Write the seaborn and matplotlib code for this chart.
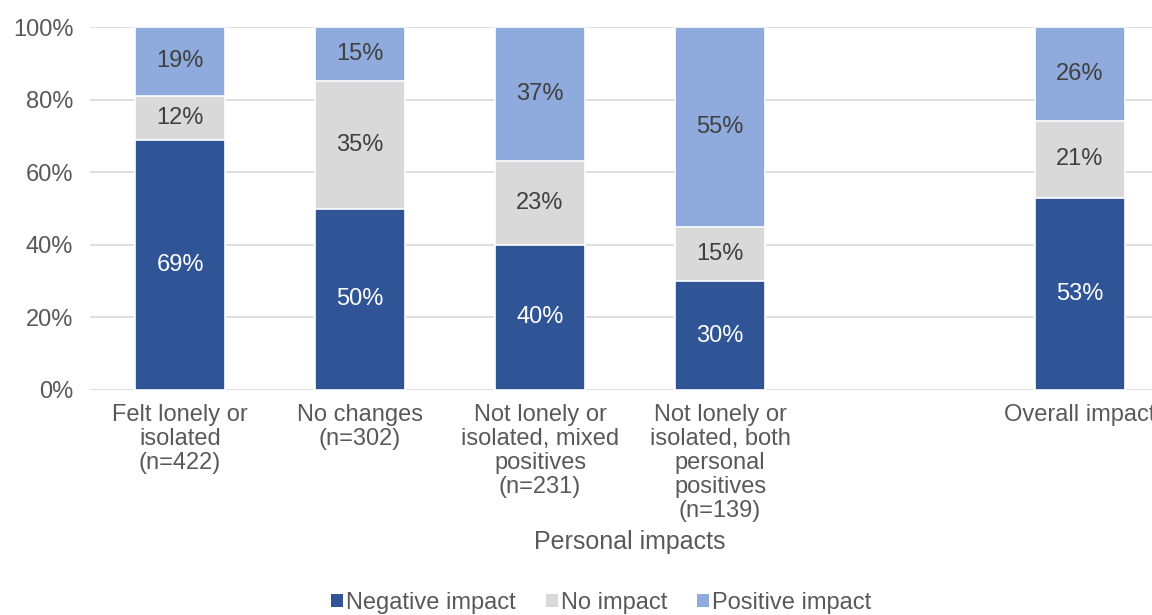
import matplotlib
matplotlib.use("Agg")
import matplotlib.pyplot as plt
import seaborn as sns
import pandas as pd
import numpy as np
from matplotlib.patches import Patch

categories = ["Felt lonely or\nisolated\n(n=422)", "No changes\n(n=302)",
              "Not lonely or\nisolated, mixed\npositives\n(n=231)",
              "Not lonely or\nisolated, both\npersonal\npositives\n(n=139)",
              " ", "Overall impact"]
negative = [69, 50, 40, 30, np.nan, 53]
no_impact = [12, 35, 23, 15, np.nan, 21]
positive = [19, 15, 37, 55, np.nan, 26]
series_names = ["Negative impact", "No impact", "Positive impact"]
colors = ["#2F5597", "#D9D9D9", "#8FAADC"]
text_colors = ["white", "#404040", "#404040"]
yticks = [0, 20, 40, 60, 80, 100]

sns.set_theme(style="white")
plt.rcParams['font.family'] = ['Liberation Sans', 'DejaVu Sans']
grey = "#595959"

df = pd.DataFrame({"cat": categories, "neg": negative, "no": no_impact, "pos": positive})
df["c1"] = df["neg"]
df["c2"] = df["neg"] + df["no"]
df["c3"] = df["neg"] + df["no"] + df["pos"]

fig = plt.figure(figsize=(11.52, 6.15), dpi=100)
ax = fig.add_axes([90/1152, 1-390/615, 1080/1152, 363/615])

for col, color in zip(["c3", "c2", "c1"], colors[::-1]):
    sns.barplot(data=df, x="cat", y=col, order=categories, color=color,
                width=0.5, edgecolor="white", linewidth=1.2, ax=ax, zorder=3,
                saturation=1, errorbar=None)

for i, cat in enumerate(categories):
    vals = [negative[i], no_impact[i], positive[i]]
    if np.isnan(vals[0]):
        continue
    base = 0
    for v, tc in zip(vals, text_colors):
        ax.text(i, base + v/2, f"{int(v)}%", ha="center", va="center",
                color=tc, fontsize=17, zorder=5)
        base += v

ax.set_ylim(0, 100)
ax.set_xlim(-0.5, 5.5)
ax.set_yticks(yticks)
ax.set_yticklabels([f"{t}%" for t in yticks], color=grey, fontsize=17)
ax.tick_params(axis="x", colors=grey, labelsize=17, length=0, pad=10)
ax.tick_params(axis="y", length=0, pad=12)
for lab in ax.get_xticklabels():
    lab.set_linespacing(1.12)
ax.yaxis.grid(True, color="#D9D9D9", linewidth=1.2, zorder=0)
ax.set_axisbelow(True)
for s in ax.spines.values():
    s.set_visible(False)
ax.set_ylabel("")
ax.set_xlabel("Personal impacts", color=grey, fontsize=18, labelpad=6)

handles = [Patch(facecolor=c, edgecolor="none") for c in colors]
fig.legend(handles, series_names, loc="lower center", bbox_to_anchor=(0.522, -0.033),
           ncol=3, frameon=False, fontsize=17, labelcolor=grey,
           handlelength=0.5, handleheight=0.5, handletextpad=0.15, columnspacing=1.25)

fig.savefig("out.png", dpi=100)
